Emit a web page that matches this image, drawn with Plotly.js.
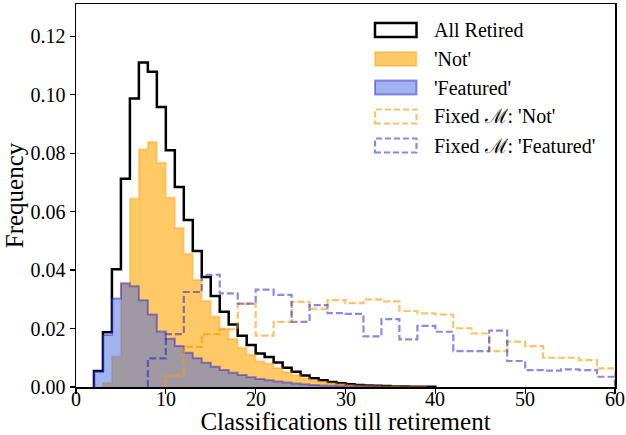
<!DOCTYPE html>
<html>
<head>
<meta charset="utf-8">
<script src="https://cdn.plot.ly/plotly-3.0.1.min.js"></script>
<style>html,body{margin:0;padding:0;background:#fff;}#chart{width:626px;height:435px;}</style>
</head>
<body>
<div id="chart"></div>
<script>
// ---------- data (frequency per bin) ----------
// unit-width bins; first bin left edge given separately
const allRetiredStart = 2;
const allRetired = [0.0055, 0.0187, 0.0403, 0.0712, 0.0987, 0.1110, 0.1078, 0.0958, 0.0810, 0.0684,
  0.0571, 0.0465, 0.0376, 0.0311, 0.0257, 0.0214, 0.0175, 0.0144, 0.0115, 0.0103,
  0.0084, 0.0066, 0.0052, 0.0039, 0.0030, 0.0023, 0.0017, 0.0013, 0.0009, 0.0007,
  0.0005, 0.0004, 0.0003, 0.0002, 0.00015, 0.0001, 0.0001, 0.00005];

const notStart = 3;
const notVals = [0.0014, 0.0104, 0.0352, 0.0645, 0.0813, 0.0838, 0.0767, 0.0648, 0.0544, 0.0456,
  0.0367, 0.0295, 0.0241, 0.0199, 0.0165, 0.0134, 0.0111, 0.0088, 0.0080, 0.0065,
  0.0051, 0.0040, 0.0030, 0.0023, 0.0018, 0.0013, 0.0010, 0.0007, 0.0005, 0.0004,
  0.0003, 0.0002, 0.00015, 0.0001, 0.0001, 0.0001];

const featStart = 2;
const featVals = [0.0052, 0.0178, 0.0303, 0.0355, 0.0345, 0.0297, 0.0248, 0.0190, 0.0165, 0.0140,
  0.0117, 0.0098, 0.0083, 0.0069, 0.0058, 0.0049, 0.0041, 0.0033, 0.0027, 0.0023,
  0.0019, 0.0015, 0.0012, 0.0009, 0.0007, 0.0005, 0.0004, 0.0003, 0.0002, 0.0002,
  0.0001, 0.0001];

// width-2 bins (fixed M)
const fixedNotStart = 10;
const fixedNot = [0.0038, 0.0137, 0.0181, 0.0197, 0.0284, 0.0176, 0.0223, 0.0291, 0.0267, 0.0297,
  0.0287, 0.0300, 0.0293, 0.0260, 0.0252, 0.0248, 0.0201, 0.0183, 0.0123, 0.0155,
  0.0140, 0.0100, 0.0100, 0.0092, 0.0064];

const fixedFeatStart = 8;
const fixedFeat = [0.0098, 0.0181, 0.0325, 0.0384, 0.0320, 0.0285, 0.0333, 0.0315, 0.0223, 0.0280,
  0.0253, 0.0250, 0.0173, 0.0232, 0.0163, 0.0209, 0.0189, 0.0123, 0.0123, 0.0193,
  0.0089, 0.0058, 0.0056, 0.0060, 0.0058, 0.0035];

const xTicks = [0, 10, 20, 30, 40, 50, 60];
const xTickLabels = ['0', '10', '20', '30', '40', '50', '60'];
const legendLabels = ["All Retired", "'Not'", "'Featured'", "Fixed \u2133: 'Not'", "Fixed \u2133: 'Featured'"];

// ---------- helpers ----------
function stepXY(start, width, vals) {
  const x = [start], y = [0];
  vals.forEach((v, i) => { x.push(start + i * width); y.push(v); });
  x.push(start + vals.length * width); y.push(0);
  return {x, y};
}

const C = {
  black: '#000000',
  notFill: 'rgba(255,165,0,0.6)',
  notEdge: 'rgba(255,150,0,0.35)',
  featFill: 'rgba(65,105,225,0.5)',
  featEdge: 'rgba(40,20,200,0.45)',
  fixNot: 'rgba(255,150,0,0.6)',
  fixFeat: 'rgba(20,20,210,0.5)'
};

const sA = stepXY(allRetiredStart, 1, allRetired);
const sN = stepXY(notStart, 1, notVals);
const sF = stepXY(featStart, 1, featVals);
const sFN = stepXY(fixedNotStart, 2, fixedNot);
const sFF = stepXY(fixedFeatStart, 2, fixedFeat);

const traces = [
  {x: sA.x, y: sA.y, type: 'scatter', mode: 'lines', line: {shape: 'hv', color: C.black, width: 2.5}, showlegend: false, hoverinfo: 'skip'},
  {x: sN.x, y: sN.y, type: 'scatter', mode: 'lines', fill: 'tozeroy', fillcolor: C.notFill, line: {shape: 'hv', color: C.notEdge, width: 2}, showlegend: false, hoverinfo: 'skip'},
  {x: sF.x, y: sF.y, type: 'scatter', mode: 'lines', fill: 'tozeroy', fillcolor: C.featFill, line: {shape: 'hv', color: C.featEdge, width: 2}, showlegend: false, hoverinfo: 'skip'},
  {x: sFN.x, y: sFN.y, type: 'scatter', mode: 'lines', line: {shape: 'hv', color: C.fixNot, width: 2.2, dash: '7px,3px'}, showlegend: false, hoverinfo: 'skip'},
  {x: sFF.x, y: sFF.y, type: 'scatter', mode: 'lines', line: {shape: 'hv', color: C.fixFeat, width: 2.2, dash: '7px,3px'}, showlegend: false, hoverinfo: 'skip'}
];

// ---------- custom legend (paper coords) ----------
const L = 76, R = 615, T = 4, B = 387;
const px = v => (v - L) / (R - L);
const py = v => (B - v) / (B - T);
const rowY = [30, 59, 87.5, 116.5, 145.5];
const serif = 'Liberation Serif, Times New Roman, serif';
const legStyles = [
  {fill: 'rgba(0,0,0,0)', line: {color: C.black, width: 2.5}},
  {fill: C.notFill, line: {color: C.notEdge, width: 2}},
  {fill: C.featFill, line: {color: C.featEdge, width: 2}},
  {fill: 'rgba(0,0,0,0)', line: {color: C.fixNot, width: 2.2, dash: '6px,3px'}},
  {fill: 'rgba(0,0,0,0)', line: {color: C.fixFeat, width: 2.2, dash: '6px,3px'}}
];
const shapes = [], annotations = [];
legendLabels.forEach((lab, i) => {
  shapes.push({type: 'rect', xref: 'paper', yref: 'paper', x0: px(375), x1: px(416.5), y0: py(rowY[i] + 7), y1: py(rowY[i] - 7),
    fillcolor: legStyles[i].fill, line: legStyles[i].line, layer: 'above'});
  annotations.push({xref: 'paper', yref: 'paper', x: px(432), y: py(rowY[i]), xanchor: 'left', yanchor: 'middle',
    text: lab, showarrow: false, font: {family: serif, size: 20, color: '#000'}});
});
// x tick labels placed close to the axis (as in the reference)
xTicks.forEach((v, i) => {
  annotations.push({xref: 'x', yref: 'paper', x: v, y: py(399), xanchor: 'center', yanchor: 'middle',
    text: xTickLabels[i], showarrow: false, font: {family: serif, size: 20, color: '#000'}});
});

const layout = {
  width: 626, height: 435,
  margin: {l: L, r: 626 - R, t: T, b: 435 - B},
  paper_bgcolor: '#fff', plot_bgcolor: '#fff',
  font: {family: serif, color: '#000'},
  xaxis: {range: [0, 60], tickvals: xTicks, showticklabels: false, ticks: 'outside', ticklen: 5, tickwidth: 1.2, tickcolor: '#000',
    showline: true, mirror: true, linecolor: '#000', linewidth: 1.5, showgrid: false, zeroline: false, automargin: false,
    title: {text: 'Classifications till retirement', font: {family: serif, size: 25, color: '#000'}, standoff: 22}},
  yaxis: {range: [0, 0.131], dtick: 0.02, tick0: 0, tickformat: '.2f', ticks: 'outside', ticklen: 5, tickwidth: 1.2, tickcolor: '#000',
    showline: true, mirror: true, linecolor: '#000', linewidth: 1.5, showgrid: false, zeroline: false,
    tickfont: {family: serif, size: 20, color: '#000'}, automargin: false,
    title: {text: 'Frequency', font: {family: serif, size: 25, color: '#000'}, standoff: 0}},
  shapes: shapes,
  annotations: annotations,
  showlegend: false
};

Plotly.newPlot('chart', traces, layout, {staticPlot: true, displayModeBar: false});
</script>
</body>
</html>
